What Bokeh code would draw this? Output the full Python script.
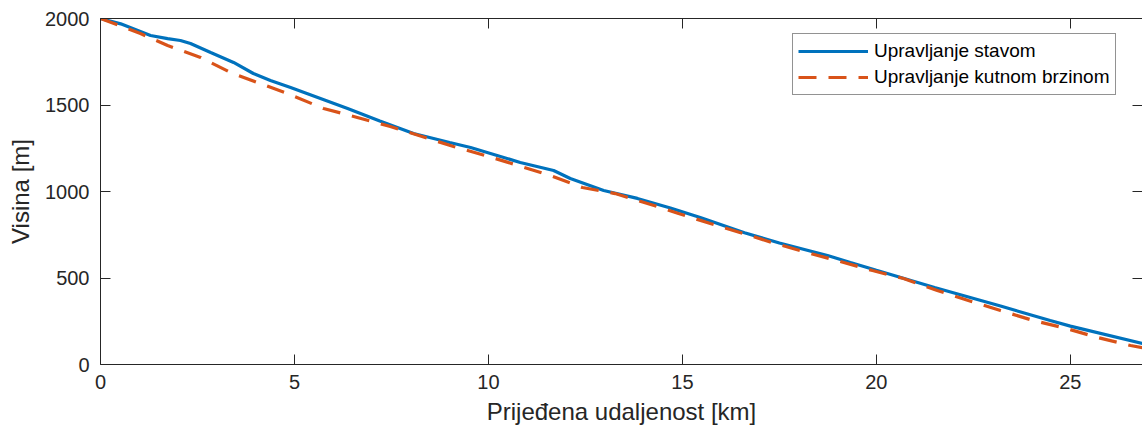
from bokeh.plotting import figure
from bokeh.models import Range1d, LinearAxis, FixedTicker, Legend, LegendItem
from bokeh.embed import file_html
from bokeh.resources import INLINE

# Upravljanje stavom (attitude control)
dist_stav = [0.0, 0.52, 1.29, 1.73, 2.06, 2.32, 2.84, 3.43, 3.94, 4.38, 4.90,
             6.37, 7.20, 8.07, 9.00, 9.54, 10.82, 11.68, 12.11, 12.97, 13.84,
             14.69, 15.46, 16.60, 17.50, 18.74, 19.33, 20.00,
             21.50, 23.20, 24.48, 25.00, 26.86]
alt_stav = [2000, 1969, 1902, 1884, 1873, 1855, 1803, 1746, 1682, 1642, 1601,
            1480, 1408, 1335, 1283, 1254, 1168, 1121, 1075, 1006, 960,
            905, 850, 762, 702, 630, 590, 545,
            445, 338, 254, 222, 121]

# Upravljanje kutnom brzinom (angular rate control)
dist_kut = [0.0, 1.03, 1.73, 2.58, 3.35, 4.12, 4.82, 5.75, 6.62, 7.47, 9.10,
            9.92, 10.77, 11.60, 12.42, 13.27, 14.10, 14.90, 15.72, 16.57, 17.40,
            18.22, 19.07, 19.90, 20.70, 21.57, 22.37, 23.20, 24.05, 24.90,
            25.70, 26.55, 26.86]
alt_kut = [2000, 1913, 1844, 1775, 1688, 1624, 1566, 1480, 1428, 1376, 1260,
           1208, 1150, 1092, 1023, 988, 931, 873, 815, 757, 699,
           647, 595, 543, 497, 428, 370, 312, 254, 208,
           156, 110, 97]

x_ticks = [0, 5, 10, 15, 20, 25]
y_ticks = [0, 500, 1000, 1500, 2000]

FONT = "Liberation Sans"
AX = "#262626"

p = figure(width=1142, height=435, x_range=Range1d(0, 26.86), y_range=Range1d(0, 2000),
           output_backend="svg", toolbar_location=None,
           min_border_left=100, min_border_top=18, min_border_bottom=71, min_border_right=0,
           x_axis_label="Prijeđena udaljenost [km]", y_axis_label="Visina [m]")
p.outline_line_color = None
p.grid.visible = False
p.background_fill_color = "white"

for ax, ticks in ((p.xaxis[0], x_ticks), (p.yaxis[0], y_ticks)):
    ax.ticker = FixedTicker(ticks=ticks)
    ax.minor_tick_line_color = None
    ax.major_tick_in = 10
    ax.major_tick_out = 0
    ax.axis_line_color = AX
    ax.major_tick_line_color = AX
    ax.major_label_text_color = AX
    ax.major_label_text_font = FONT
    ax.major_label_text_font_size = "20px"
    ax.axis_label_text_font = FONT
    ax.axis_label_text_font_size = "24px"
    ax.axis_label_text_font_style = "normal"
    ax.axis_label_text_color = AX

p.xaxis[0].major_label_standoff = 10
p.xaxis[0].axis_label_standoff = 6
p.yaxis[0].major_label_standoff = 11
p.yaxis[0].axis_label_standoff = 8

top = LinearAxis(ticker=FixedTicker(ticks=x_ticks),
                 major_label_overrides={t: "" for t in x_ticks})
right = LinearAxis(ticker=FixedTicker(ticks=y_ticks),
                   major_label_overrides={t: "" for t in y_ticks})
for ax in (top, right):
    ax.minor_tick_line_color = None
    ax.major_tick_in = 10
    ax.major_tick_out = 0
    ax.major_label_standoff = 0
    ax.major_tick_line_color = AX
    ax.axis_line_color = AX
    ax.major_label_text_font_size = "1px"
right.axis_line_color = None
p.add_layout(top, "above")
p.add_layout(right, "right")

r1 = p.line(dist_stav, alt_stav, line_color="#0072BD", line_width=3.2)
r2 = p.line(dist_kut, alt_kut, line_color="#D95319", line_width=3.2, line_dash="18 12")

legend = Legend(items=[LegendItem(label="Upravljanje stavom", renderers=[r1]),
                       LegendItem(label="Upravljanje kutnom brzinom", renderers=[r2])],
                location=(692, 269))
legend.label_text_font = FONT
legend.label_text_font_size = "19px"
legend.label_text_color = "black"
legend.glyph_width = 70
legend.glyph_height = 24
legend.label_height = 24
legend.label_standoff = 6
legend.spacing = 2
legend.padding = 5
legend.margin = 0
legend.border_line_color = AX
legend.border_line_width = 1
legend.background_fill_alpha = 1
p.add_layout(legend, "center")

open("out.html", "w").write(file_html(p, INLINE))
